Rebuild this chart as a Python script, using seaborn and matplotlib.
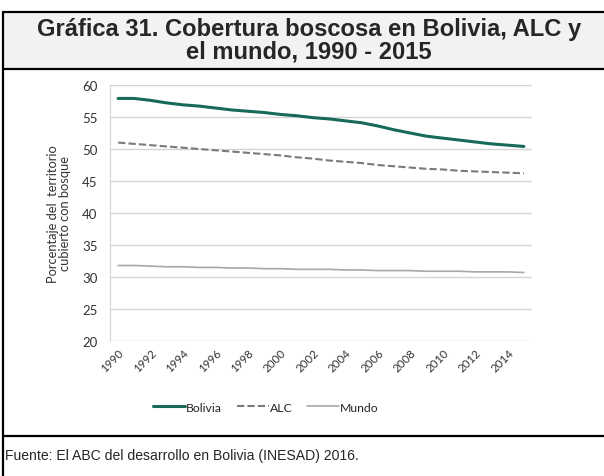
import pandas as pd
import matplotlib.pyplot as plt
import seaborn as sns
from matplotlib.lines import Line2D
from matplotlib.patches import Rectangle

# Data (percent of territory covered by forest)
years = list(range(1990, 2016))
bolivia = [57.9, 57.9, 57.6, 57.2, 56.9, 56.7, 56.4, 56.1, 55.9, 55.7, 55.4, 55.2, 54.9,
           54.7, 54.4, 54.1, 53.6, 53.0, 52.5, 52.0, 51.7, 51.4, 51.1, 50.8, 50.6, 50.4]
alc = [51.0, 50.8, 50.6, 50.4, 50.2, 50.0, 49.8, 49.6, 49.4, 49.2, 49.0, 48.7, 48.5,
       48.2, 48.0, 47.8, 47.5, 47.3, 47.1, 46.9, 46.8, 46.6, 46.5, 46.4, 46.3, 46.2]
mundo = [31.8, 31.8, 31.7, 31.6, 31.6, 31.5, 31.5, 31.4, 31.4, 31.3, 31.3, 31.2, 31.2,
         31.2, 31.1, 31.1, 31.0, 31.0, 31.0, 30.9, 30.9, 30.9, 30.8, 30.8, 30.8, 30.7]
series_names = ['Bolivia', 'ALC', 'Mundo']
x_ticks = list(range(1990, 2015, 2))
y_ticks = [20, 25, 30, 35, 40, 45, 50, 55, 60]

title_text = 'Gráfica 31. Cobertura boscosa en Bolivia, ALC y\nel mundo, 1990 - 2015'
source_text = 'Fuente: El ABC del desarrollo en Bolivia (INESAD) 2016.'
ylabel_text = 'Porcentaje del  territorio\ncubierto con bosque'

df = pd.DataFrame({
    'year': years * 3,
    'value': bolivia + alc + mundo,
    'serie': [s for s in series_names for _ in years],
})

sns.set_style('white')
plt.rcParams['font.family'] = ['Lato', 'DejaVu Sans']

W, H = 604, 477
fig = plt.figure(figsize=(W / 100, H / 100), dpi=100)

# frame and title box
fig.add_artist(Rectangle((3 / W, 1 - 70 / H), 1, (70 - 13) / H, transform=fig.transFigure,
                         facecolor='#f2f2f2', edgecolor='none', zorder=0))
line_kw = dict(transform=fig.transFigure, color='black', linewidth=1.6)
fig.add_artist(Line2D([3 / W, 1], [1 - 13 / H, 1 - 13 / H], **line_kw))
fig.add_artist(Line2D([3 / W, 1], [1 - 70 / H, 1 - 70 / H], **line_kw))
fig.add_artist(Line2D([3 / W, 1], [1 - 437 / H, 1 - 437 / H], **line_kw))
fig.add_artist(Line2D([3 / W, 3 / W], [0, 1 - 13 / H], **line_kw))

fig.text(309 / W, 1 - 41 / H, title_text, ha='center', va='center', fontsize=17.1,
         fontweight='bold', family='Liberation Sans', linespacing=1.0)
fig.text(5 / W, 1 - 456 / H, source_text, ha='left', va='center', fontsize=10.1,
         family='Liberation Sans')

ax = fig.add_axes([110 / W, 1 - 342 / H, (532 - 110) / W, (342 - 86) / H])
sns.lineplot(data=df, x='year', y='value', hue='serie', style='serie', ax=ax,
             palette={'Bolivia': '#17695a', 'ALC': '#7a7a7a', 'Mundo': '#a8a8a8'},
             dashes={'Bolivia': '', 'ALC': (3.5, 1.5), 'Mundo': ''},
             size='serie', sizes={'Bolivia': 2.2, 'ALC': 1.5, 'Mundo': 1.2},
             legend=True)

ax.set_xlim(1989.5, 2015.5)
ax.set_ylim(20, 60)
ax.set_yticks(y_ticks)
ax.set_xticks(x_ticks)
ax.set_xticklabels([str(y) for y in x_ticks], rotation=45, ha='right',
                   rotation_mode='anchor', fontsize=8.3, color='#333333')
ax.tick_params(axis='y', labelsize=9.5, colors='#333333', length=0, pad=9)
ax.tick_params(axis='x', length=0, pad=4)
ax.yaxis.grid(True, color='#d4d4d4', linewidth=1.0)
for s in ['top', 'right', 'bottom']:
    ax.spines[s].set_visible(False)
ax.spines['left'].set_color('#d4d4d4')
ax.set_xlabel('')
ax.set_ylabel(ylabel_text, fontsize=9.3, color='#333333', labelpad=8, linespacing=1.0)

handles, labels = ax.get_legend_handles_labels()
ax.get_legend().remove()
fig.legend(handles, labels, loc='center', bbox_to_anchor=(266 / W, 1 - 408 / H), ncol=3,
           frameon=False, fontsize=8.8, handlelength=2.6, handletextpad=0.1, columnspacing=1.2)

fig.savefig('out.png', dpi=100)
